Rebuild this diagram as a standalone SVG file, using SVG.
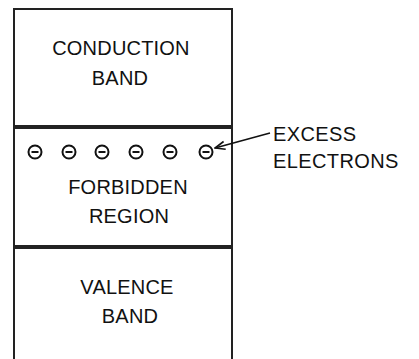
<svg xmlns="http://www.w3.org/2000/svg" width="419" height="359" viewBox="0 0 419 359">
<defs>
<style>
.box{fill:#fff;stroke:#222;stroke-width:2}
.t{font-family:"Liberation Sans",Arial,sans-serif;font-size:20px;fill:#111;text-anchor:middle;letter-spacing:0.2px}
.l{font-family:"Liberation Sans",Arial,sans-serif;font-size:20px;fill:#111;letter-spacing:0.4px}
.e{fill:none;stroke:#111;stroke-width:2}
.c{fill:none;stroke:#111;stroke-width:1.6}
</style>
<marker id="ah" markerWidth="12" markerHeight="10" refX="11" refY="5" orient="auto" markerUnits="userSpaceOnUse">
<path d="M1,1 L11,5 L1,9" fill="none" stroke="#111" stroke-width="1.6"/>
</marker>
</defs>
<rect width="419" height="359" fill="#fff"/>
<g id="conduction">
<rect class="box" x="14" y="9" width="218" height="117"/>
<text class="t" x="121" y="55">CONDUCTION</text>
<text class="t" x="120" y="85">BAND</text>
</g>
<g id="forbidden">
<rect class="box" x="14" y="128" width="218" height="118"/>
<g id="electrons">
<circle class="e" cx="35" cy="152" r="6.5"/><line class="e" x1="31.5" y1="152" x2="38.5" y2="152"/>
<circle class="e" cx="69" cy="152" r="6.5"/><line class="e" x1="65.5" y1="152" x2="72.5" y2="152"/>
<circle class="e" cx="102" cy="152" r="6.5"/><line class="e" x1="98.5" y1="152" x2="105.5" y2="152"/>
<circle class="e" cx="136" cy="152" r="6.5"/><line class="e" x1="132.5" y1="152" x2="139.5" y2="152"/>
<circle class="e" cx="170" cy="152" r="6.5"/><line class="e" x1="166.5" y1="152" x2="173.5" y2="152"/>
<circle class="e" cx="206" cy="152" r="6.5"/><line class="e" x1="202.5" y1="152" x2="209.5" y2="152"/>
</g>
<text class="t" x="128" y="194">FORBIDDEN</text>
<text class="t" x="129" y="223">REGION</text>
</g>
<g id="valence">
<rect class="box" x="14" y="248" width="218" height="118"/>
<text class="t" x="127" y="294">VALENCE</text>
<text class="t" x="130" y="323">BAND</text>
</g>
<g id="label">
<text class="l" x="273" y="141">EXCESS</text>
<text class="l" x="273" y="168">ELECTRONS</text>
</g>
<g id="connectors">
<line class="c" x1="270" y1="133" x2="215" y2="148" marker-end="url(#ah)"/>
</g>
</svg>
